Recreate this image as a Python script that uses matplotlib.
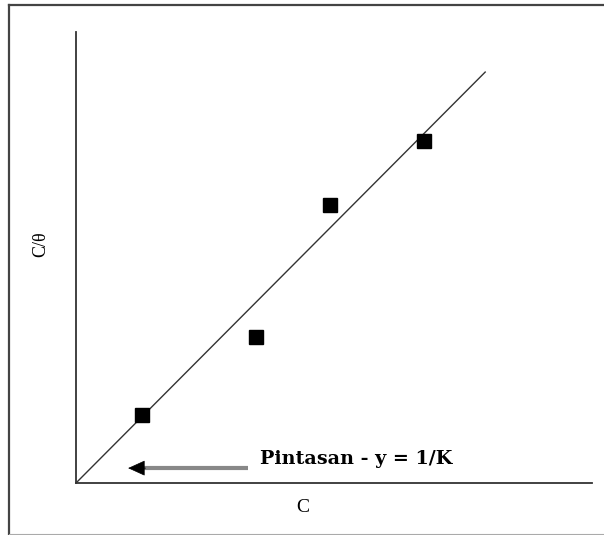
import matplotlib.pyplot as plt
from matplotlib.lines import Line2D

# Langmuir linear plot: C/theta against C
conc = [1.28, 3.49, 4.92, 6.74]
c_over_theta = [1.51, 3.24, 6.16, 7.58]
intercept = 0.0
slope = 1.149
line_x = [0.0, 7.93]

plt.rcParams['font.family'] = ['Liberation Serif', 'DejaVu Serif']

W, H = 604, 535
fig = plt.figure(figsize=(W / 100, H / 100), dpi=100)
# axes box in pixel units: left 76, right 592, top 32, bottom 483
ax = fig.add_axes([76 / W, (H - 483) / H, (592 - 76) / W, (483 - 32) / H])
ax.set_xlim(0, 10)
ax.set_ylim(0, 10)

ax.plot(line_x, [intercept + slope * x for x in line_x], color='#333333', lw=1.0)
ax.plot(conc, c_over_theta, 's', color='black', markersize=10)

# arrow pointing to the intercept: grey shaft, black head
ax.plot([1.25, 3.33], [0.33, 0.33], color='#888888', lw=3.0, solid_capstyle='butt')
ax.annotate('', xy=(1.01, 0.33), xytext=(1.35, 0.33),
            arrowprops=dict(arrowstyle='-|>,head_length=1.1,head_width=0.5',
                            color='black', lw=0.5, shrinkA=0, shrinkB=0))
ax.text(3.57, 0.42, 'Pintasan - y = 1/K', fontsize=13.8, fontweight='bold',
        family='DejaVu Serif', va='baseline', ha='left')

for s in ['top', 'right']:
    ax.spines[s].set_visible(False)
for s in ['left', 'bottom']:
    ax.spines[s].set_color('#333333')
    ax.spines[s].set_linewidth(1.3)
ax.set_xticks([])
ax.set_yticks([])

fig.text(303 / W, 1 - 507 / H, 'C', fontsize=14, ha='center', va='center')
fig.text(41 / W, 1 - 244 / H, 'C/θ', fontsize=13, rotation=90, ha='center', va='center')

# frame around the whole figure
fig.add_artist(Line2D([9 / W, 604 / W], [1 - 5 / H, 1 - 5 / H], color='#444444', lw=1.6))
fig.add_artist(Line2D([9 / W, 9 / W], [1 - 5 / H, 1 - 534 / H], color='#444444', lw=1.6))
fig.add_artist(Line2D([9 / W, 604 / W], [1 - 533.5 / H, 1 - 533.5 / H], color='#aaaaaa', lw=0.8))

fig.savefig('out.png', dpi=100)
